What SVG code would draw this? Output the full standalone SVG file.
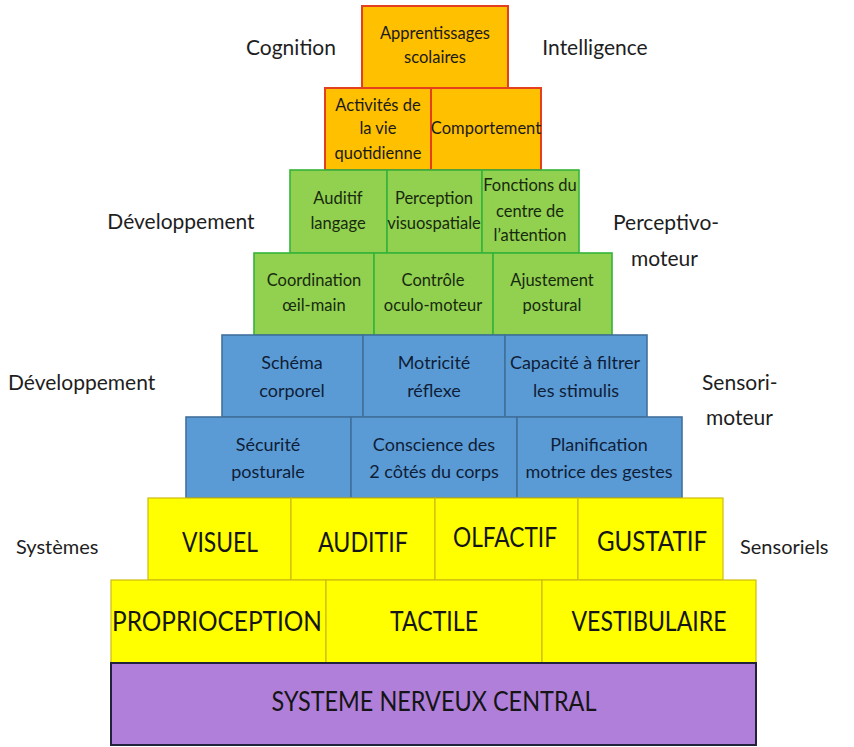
<svg xmlns="http://www.w3.org/2000/svg" width="854" height="747" viewBox="0 0 854 747">
<style>
text{font-family:Lato,"Open Sans","Liberation Sans",sans-serif;text-anchor:middle}
.o{fill:#FFC000;stroke:#E2401F;stroke-width:2}
.g{fill:#92D050;stroke:#35B43A;stroke-width:1.6}
.b{fill:#5B9BD5;stroke:#41719C;stroke-width:1.6}
.y{fill:#FFFF00;stroke:#CDBB10;stroke-width:1.2}
.p{fill:#B07FDA;stroke:#22223C;stroke-width:2}
.t{font-size:16.5px;fill:#1a1a1a}
.tg{font-size:16.5px;fill:#172a0e}
.tb{font-size:18px;fill:#0f1e38}
.c{font-size:26px;fill:#151515}
.s{font-size:21px;fill:#1e1e1e}
.l{text-anchor:start}
</style>
<rect width="854" height="747" fill="#fff"/>
<g id="labels">
<text class="s" x="291" y="55">Cognition</text>
<text class="s" x="595" y="55">Intelligence</text>
<text class="s" x="181" y="229">Développement</text>
<text class="s l" x="613" y="230">Perceptivo-</text>
<text class="s l" x="631" y="266">moteur</text>
<text class="s l" x="8" y="390">Développement</text>
<text class="s l" x="702" y="390">Sensori-</text>
<text class="s l" x="706" y="425">moteur</text>
<text class="s l" x="16" y="554" style="font-size:20px">Systèmes</text>
<text class="s l" x="740" y="554" style="font-size:20px">Sensoriels</text>
</g>
<g id="connectors"/>
<g id="apprentissages"><rect class="o" x="362" y="6" width="146" height="82"/><text class="t" x="435" y="39">Apprentissages</text><text class="t" x="435" y="63">scolaires</text></g>
<g id="activites"><rect class="o" x="325" y="88" width="106" height="82"/><text class="t" x="378" y="111">Activités de</text><text class="t" x="378" y="134">la vie</text><text class="t" x="378" y="159">quotidienne</text></g>
<g id="comportement"><rect class="o" x="431" y="88" width="110" height="82"/><text class="t" x="486" y="134">Comportement</text></g>
<g id="auditif-langage"><rect class="g" x="290" y="170" width="97" height="83"/><text class="tg" x="338" y="204">Auditif</text><text class="tg" x="338" y="229">langage</text></g>
<g id="perception"><rect class="g" x="387" y="170" width="95" height="83"/><text class="tg" x="434" y="204">Perception</text><text class="tg" x="434" y="229">visuospatiale</text></g>
<g id="fonctions"><rect class="g" x="482" y="170" width="97" height="83"/><text class="tg" x="530" y="191">Fonctions du</text><text class="tg" x="530" y="217">centre de</text><text class="tg" x="530" y="241">l’attention</text></g>
<g id="coordination"><rect class="g" x="254" y="253" width="120" height="82"/><text class="tg" x="314" y="286">Coordination</text><text class="tg" x="314" y="311">œil-main</text></g>
<g id="controle"><rect class="g" x="374" y="253" width="119" height="82"/><text class="tg" x="433" y="286">Contrôle</text><text class="tg" x="433" y="311">oculo-moteur</text></g>
<g id="ajustement"><rect class="g" x="493" y="253" width="119" height="82"/><text class="tg" x="552" y="286">Ajustement</text><text class="tg" x="552" y="311">postural</text></g>
<g id="schema"><rect class="b" x="222" y="335" width="141" height="82"/><text class="tb" x="292" y="369">Schéma</text><text class="tb" x="292" y="397">corporel</text></g>
<g id="motricite"><rect class="b" x="363" y="335" width="142" height="82"/><text class="tb" x="434" y="369">Motricité</text><text class="tb" x="434" y="397">réflexe</text></g>
<g id="capacite"><rect class="b" x="505" y="335" width="142" height="82"/><text class="tb" x="575" y="369">Capacité à filtrer</text><text class="tb" x="576" y="397">les stimulis</text></g>
<g id="securite"><rect class="b" x="186" y="417" width="165" height="81"/><text class="tb" x="268" y="451">Sécurité</text><text class="tb" x="268" y="478">posturale</text></g>
<g id="conscience"><rect class="b" x="351" y="417" width="166" height="81"/><text class="tb" x="434" y="451">Conscience des</text><text class="tb" x="434" y="478">2 côtés du corps</text></g>
<g id="planification"><rect class="b" x="517" y="417" width="165" height="81"/><text class="tb" x="599" y="451">Planification</text><text class="tb" x="599" y="478">motrice des gestes</text></g>
<g id="visuel"><rect class="y" x="148" y="498" width="143" height="82"/><text class="c" x="220" y="552" textLength="76" lengthAdjust="spacingAndGlyphs">VISUEL</text></g>
<g id="auditif"><rect class="y" x="291" y="498" width="144" height="82"/><text class="c" x="363" y="552" textLength="90" lengthAdjust="spacingAndGlyphs">AUDITIF</text></g>
<g id="olfactif"><rect class="y" x="435" y="498" width="143" height="82"/><text class="c" x="505" y="547" textLength="104" lengthAdjust="spacingAndGlyphs">OLFACTIF</text></g>
<g id="gustatif"><rect class="y" x="578" y="498" width="145" height="82"/><text class="c" x="652" y="551" textLength="110" lengthAdjust="spacingAndGlyphs">GUSTATIF</text></g>
<g id="proprioception"><rect class="y" x="111" y="580" width="215" height="83"/><text class="c" x="217" y="631" textLength="210" lengthAdjust="spacingAndGlyphs">PROPRIOCEPTION</text></g>
<g id="tactile"><rect class="y" x="326" y="580" width="216" height="83"/><text class="c" x="434" y="631" textLength="88" lengthAdjust="spacingAndGlyphs">TACTILE</text></g>
<g id="vestibulaire"><rect class="y" x="542" y="580" width="214" height="83"/><text class="c" x="649" y="631" textLength="155" lengthAdjust="spacingAndGlyphs">VESTIBULAIRE</text></g>
<g id="snc"><rect class="p" x="111" y="663" width="645" height="82"/><text class="c" x="434" y="711" textLength="325" lengthAdjust="spacingAndGlyphs">SYSTEME NERVEUX CENTRAL</text></g>
</svg>
